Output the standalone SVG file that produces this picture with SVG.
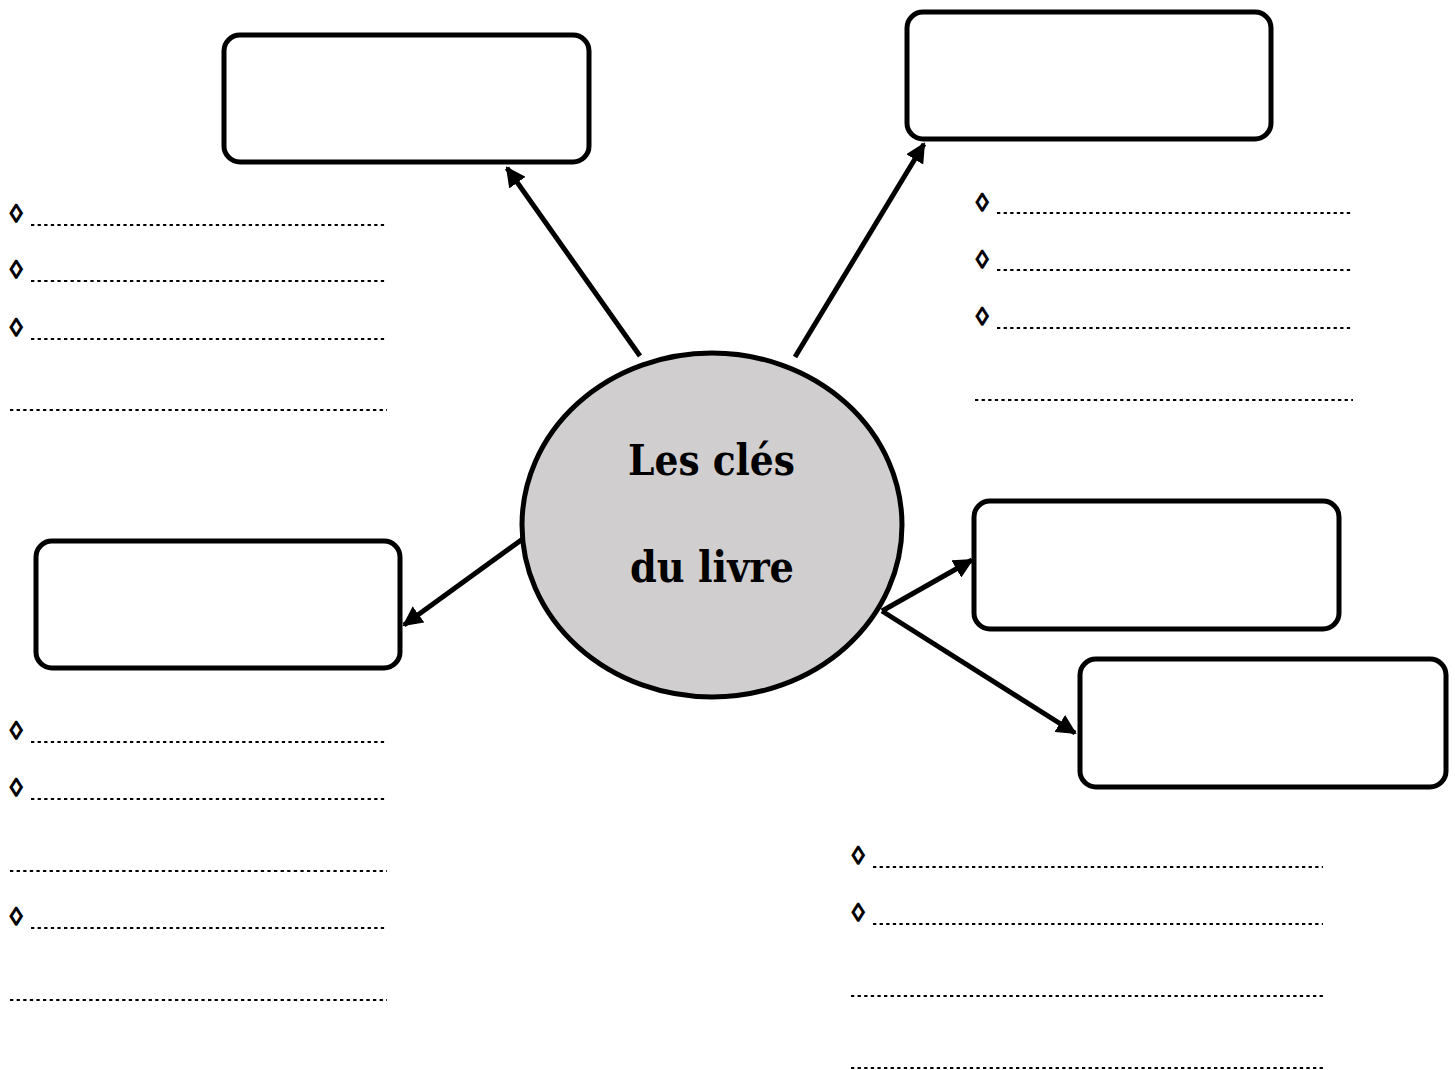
<svg xmlns="http://www.w3.org/2000/svg" width="1455" height="1070" viewBox="0 0 1455 1070">
<style>
.box{fill:#fff;stroke:#000;stroke-width:5}
.con{stroke:#000;stroke-width:5;fill:none}
.dot{stroke:#000;stroke-width:2;stroke-dasharray:3.3 3.3;fill:none}
.dia{font-family:"Liberation Sans",sans-serif;font-size:25px;fill:#000;stroke:#000;stroke-width:1.4}
.title{font-family:"DejaVu Serif",serif;font-weight:bold;font-size:42px;fill:#000}
</style>
<defs>
<marker id="ah" viewBox="0 0 10 10" refX="9" refY="5" markerWidth="4" markerHeight="4" orient="auto" markerUnits="strokeWidth">
<path d="M0,0 L10,5 L0,10 Z" fill="#000"/>
</marker>
</defs>
<g id="connectors">
<line class="con" x1="640" y1="356" x2="507" y2="168" marker-end="url(#ah)"/>
<line class="con" x1="795" y1="357" x2="924" y2="144" marker-end="url(#ah)"/>
<line class="con" x1="524" y1="538" x2="404" y2="625" marker-end="url(#ah)"/>
<line class="con" x1="882" y1="611" x2="972" y2="560" marker-end="url(#ah)"/>
<line class="con" x1="882" y1="611" x2="1075" y2="733" marker-end="url(#ah)"/>
</g>
<g id="center">
<ellipse cx="712" cy="525" rx="190" ry="172" fill="#d0cecf" stroke="#000" stroke-width="5"/>
<text class="title" x="628" y="475" textLength="167" lengthAdjust="spacingAndGlyphs">Les clés</text>
<text class="title" x="630" y="582" textLength="164" lengthAdjust="spacingAndGlyphs">du livre</text>
</g>
<g id="box-top-left"><rect class="box" x="224" y="35" width="365" height="127" rx="16"/></g>
<g id="box-top-right"><rect class="box" x="907" y="12" width="364" height="127" rx="16"/></g>
<g id="box-left"><rect class="box" x="36" y="541" width="364" height="127" rx="16"/></g>
<g id="box-right-mid"><rect class="box" x="974" y="501" width="365" height="128" rx="16"/></g>
<g id="box-right-bottom"><rect class="box" x="1080" y="659" width="366" height="128" rx="16"/></g>
<g id="notes-top-left">
<text class="dia" x="10" y="222">◊</text><line class="dot" x1="31" y1="225" x2="387" y2="225"/>
<text class="dia" x="10" y="278">◊</text><line class="dot" x1="31" y1="281" x2="387" y2="281"/>
<text class="dia" x="10" y="336">◊</text><line class="dot" x1="31" y1="339" x2="387" y2="339"/>
<line class="dot" x1="10" y1="410" x2="387" y2="410"/>
</g>
<g id="notes-bottom-left">
<text class="dia" x="10" y="739">◊</text><line class="dot" x1="31" y1="742" x2="387" y2="742"/>
<text class="dia" x="10" y="796">◊</text><line class="dot" x1="31" y1="799" x2="387" y2="799"/>
<line class="dot" x1="10" y1="871" x2="387" y2="871"/>
<text class="dia" x="10" y="925">◊</text><line class="dot" x1="31" y1="928" x2="387" y2="928"/>
<line class="dot" x1="10" y1="1000" x2="387" y2="1000"/>
</g>
<g id="notes-top-right">
<text class="dia" x="976" y="211">◊</text><line class="dot" x1="997" y1="213" x2="1353" y2="213"/>
<text class="dia" x="976" y="268">◊</text><line class="dot" x1="997" y1="270" x2="1353" y2="270"/>
<text class="dia" x="976" y="325">◊</text><line class="dot" x1="997" y1="328" x2="1353" y2="328"/>
<line class="dot" x1="975" y1="400" x2="1353" y2="400"/>
</g>
<g id="notes-bottom-right">
<text class="dia" x="852" y="864">◊</text><line class="dot" x1="873" y1="867" x2="1323" y2="867"/>
<text class="dia" x="852" y="921">◊</text><line class="dot" x1="873" y1="924" x2="1323" y2="924"/>
<line class="dot" x1="851" y1="996" x2="1323" y2="996"/>
<line class="dot" x1="851" y1="1068" x2="1323" y2="1068"/>
</g>
</svg>
